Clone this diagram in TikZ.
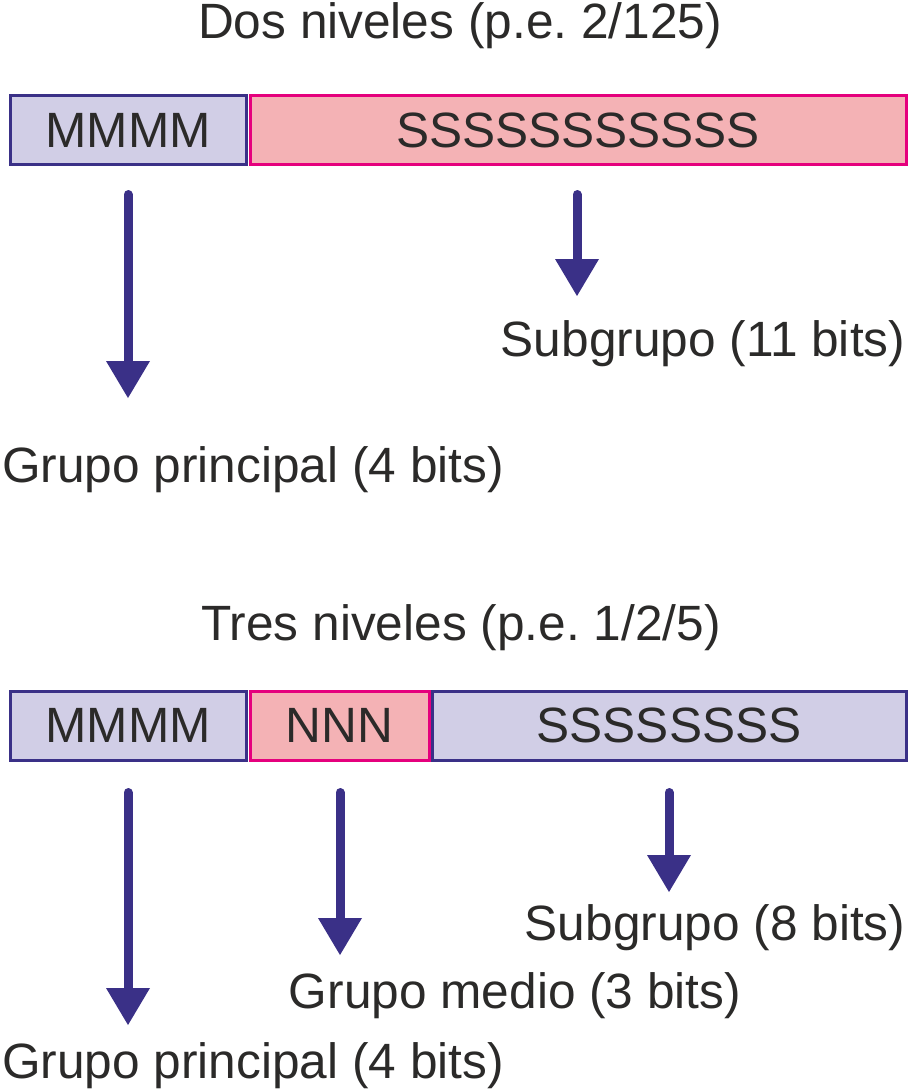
\documentclass[tikz,border=0pt]{standalone}
\usepackage{fontspec}
\setmainfont{Liberation Sans}
\usetikzlibrary{arrows.meta}
\definecolor{navy}{HTML}{3A3087}
\definecolor{lav}{HTML}{D1CEE6}
\definecolor{pinkline}{HTML}{E5007D}
\definecolor{pinkfill}{HTML}{F4B2B5}
\definecolor{txt}{HTML}{2B2A29}
\begin{document}
\frenchspacing
\begin{tikzpicture}[x=1pt,y=-1pt,
  every node/.style={text=txt,font=\fontsize{49.6}{58}\selectfont\frenchspacing,inner sep=0pt,outer sep=0pt},
  lbox/.style={draw=navy,fill=lav,line width=3pt,minimum height=69pt},
  pbox/.style={draw=pinkline,fill=pinkfill,line width=3pt,minimum height=69pt},
  arr/.style={draw=navy,line width=9pt,line cap=round,-{Triangle[width=44pt,length=37pt,line width=0pt,round=false]}},
  lab/.style={anchor=base}]
\useasboundingbox (0,0) rectangle (908,1089);
% ---- two levels
\node[lab] (t1) at (460,39) {Dos niveles (p.e. 2/125)};
\node[lbox,minimum width=236pt] (m1) at (128,130) {MMMM};
\node[pbox,minimum width=656pt] (s1) at (578,130) {SSSSSSSSSSS};
\node[lab] (l1s) at (703,356) {Subgrupo (11 bits)};
\node[lab] (l1m) at (253,482) {Grupo principal (4 bits)};
\coordinate (a1m) at (128,194.5);
\coordinate (b1m) at (128,398);
\coordinate (a1s) at (577,194.5);
\coordinate (b1s) at (577,296);
\draw[arr] (a1m) -- (b1m);
\draw[arr] (a1s) -- (b1s);
% ---- three levels
\node[lab] (t2) at (461,640) {Tres niveles (p.e. 1/2/5)};
\node[lbox,minimum width=236pt] (m2) at (128,725.5) {MMMM};
\node[pbox,minimum width=179pt] (n2) at (339.5,725.5) {NNN};
\node[lbox,minimum width=474pt] (s2) at (669,725.5) {SSSSSSSS};
\node[lab] (l2s) at (715,940) {Subgrupo (8 bits)};
\node[lab] (l2n) at (515,1008) {Grupo medio (3 bits)};
\node[lab] (l2m) at (253,1078) {Grupo principal (4 bits)};
\coordinate (a2m) at (128,792.5);
\coordinate (b2m) at (128,1025);
\coordinate (a2n) at (340,792.5);
\coordinate (b2n) at (340,955);
\coordinate (a2s) at (669,792.5);
\coordinate (b2s) at (669,892);
\draw[arr] (a2m) -- (b2m);
\draw[arr] (a2n) -- (b2n);
\draw[arr] (a2s) -- (b2s);
\end{tikzpicture}
\end{document}
